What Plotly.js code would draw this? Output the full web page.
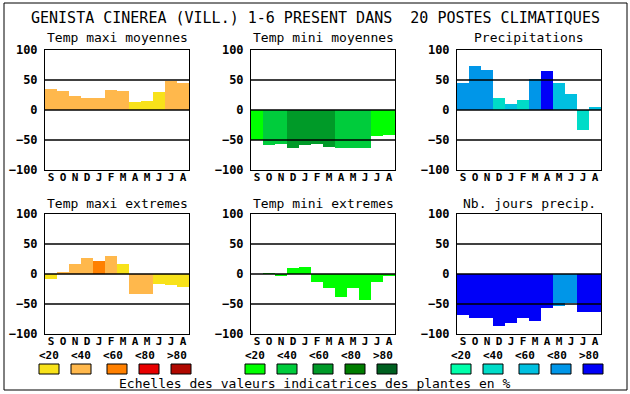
<!DOCTYPE html>
<html>
<head>
<meta charset="utf-8">
<script src="https://cdn.plot.ly/plotly-3.0.1.min.js"></script>
<style>html,body{margin:0;padding:0;background:#fff;}#chart{width:630px;height:394px;}</style>
</head>
<body>
<div id="chart"></div>
<script>
// ---- data ----
const months = ['S','O','N','D','J','F','M','A','M','J','J','A'];
const classLabels = ['<20','<40','<60','<80','>80'];
const redScale = ['#f8e21a','#ffb84c','#ff8000','#e80000','#b00800'];
const greenScale = ['#00ff00','#00cc3c','#009a28','#007d00','#006020'];
const blueScale = ['#00ffaa','#00dcc8','#00c0e0','#0096e8','#0000f8'];
const panelTitles = ['Temp maxi moyennes','Temp mini moyennes','Precipitations',
                     'Temp maxi extremes','Temp mini extremes','Nb. jours precip.'];
const mainTitle = 'GENISTA CINEREA (VILL.) 1-6 PRESENT DANS  20 POSTES CLIMATIQUES';
const footerText = 'Echelles des valeurs indicatrices des plantes en %';
const yTicks = [-100,-50,0,50,100];

const tmaxMoyVals = [35,32,23,20,20,33,32,13,15,30,48,45];
const tmaxMoyCls  = [1,1,1,1,1,1,1,0,0,0,1,1];
const tminMoyVals = [-50,-58,-56,-63,-58,-56,-61,-63,-64,-63,-43,-41];
const tminMoyCls  = [0,1,1,2,2,2,2,1,1,1,0,0];
const precVals    = [45,74,67,20,10,17,52,65,45,27,-33,5];
const precCls     = [3,3,3,1,2,1,3,4,2,2,1,2];
const tmaxExtVals = [-8,4,17,27,22,30,17,-33,-33,-16,-18,-21];
const tmaxExtCls  = [0,1,1,1,2,1,0,1,1,0,0,0];
const tminExtVals = [0,2,-3,10,12,-14,-24,-38,-24,-43,-14,-4];
const tminExtCls  = [0,0,0,0,0,0,0,0,0,0,0,0];
const jourVals    = [-68,-74,-74,-86,-81,-74,-78,-56,-53,-48,-64,-63];
const jourCls     = [4,4,4,4,4,4,4,4,3,3,4,4];

// ---- layout helpers ----
const W = 630, H = 394;
const fx = p => p / W;
const fy = p => 1 - p / H;
const mono = 'DejaVu Sans Mono, Liberation Mono, monospace';
const idx = months.map((m, i) => i);

const panels = [
  {vals: tmaxMoyVals, cls: tmaxMoyCls, scale: redScale},
  {vals: tminMoyVals, cls: tminMoyCls, scale: greenScale},
  {vals: precVals, cls: precCls, scale: blueScale},
  {vals: tmaxExtVals, cls: tmaxExtCls, scale: redScale},
  {vals: tminExtVals, cls: tminExtCls, scale: greenScale},
  {vals: jourVals, cls: jourCls, scale: blueScale}
];
const colX = [[45,189],[251,395],[457,601]];
const rowY = [[50,170],[214,334]];
const titleY = [38, 203];
const legendStart = [39, 245, 451];
const boxOff = [0, 32, 68, 100, 132];
const scales = [redScale, greenScale, blueScale];

const data = [];
const layout = {
  width: W, height: H,
  margin: {l:0, r:0, t:0, b:0},
  paper_bgcolor: '#fff', plot_bgcolor: '#fff',
  showlegend: false, bargap: 0,
  shapes: [], annotations: []
};

panels.forEach((p, k) => {
  const col = k % 3, row = Math.floor(k / 3);
  const n = k + 1;
  const xa = 'x' + (n === 1 ? '' : n), ya = 'y' + (n === 1 ? '' : n);
  data.push({
    type: 'bar', x: idx, y: p.vals, width: 1,
    marker: {color: p.cls.map(c => p.scale[c]), line: {width: 0}},
    xaxis: xa, yaxis: ya, hoverinfo: 'y'
  });
  layout['xaxis' + (n === 1 ? '' : n)] = {
    domain: [fx(colX[col][0]), fx(colX[col][1])], anchor: ya,
    range: [-0.5, 11.5], tickvals: idx, ticktext: months, ticks: '',
    ticklabelstandoff: -3,
    showgrid: false, zeroline: false, showline: true, mirror: true,
    linecolor: '#000', linewidth: 1, fixedrange: true,
    tickfont: {family: mono, size: 11, color: '#000', weight: 'bold'}
  };
  layout['yaxis' + (n === 1 ? '' : n)] = {
    domain: [fy(rowY[row][1]), fy(rowY[row][0])], anchor: xa,
    range: [-100, 100], tickvals: yTicks, ticks: '', ticklabelstandoff: 4,
    showgrid: false, zeroline: false, showline: true, mirror: true,
    linecolor: '#000', linewidth: 1, fixedrange: true,
    tickfont: {family: mono, size: 12, color: '#000', weight: 'bold'}
  };
  [50, 0, -50].forEach(v => layout.shapes.push({
    type: 'line', xref: xa + ' domain', yref: ya, x0: 0, x1: 1, y0: v, y1: v,
    line: {color: '#000', width: 1.3}, layer: 'above'
  }));
  layout.annotations.push({
    text: panelTitles[k], xref: 'paper', yref: 'paper',
    x: fx((colX[col][0] + colX[col][1]) / 2), y: fy(titleY[row]),
    xanchor: 'center', yanchor: 'middle', showarrow: false,
    font: {family: mono, size: 13, color: '#000'}
  });
});

// class labels under bottom panels and legend boxes
legendStart.forEach((s, g) => {
  classLabels.forEach((lab, i) => {
    layout.annotations.push({
      text: lab, xref: 'paper', yref: 'paper',
      x: fx(s + 10 + 32 * i), y: fy(355), xanchor: 'center', yanchor: 'middle',
      showarrow: false, font: {family: mono, size: 11, color: '#000', weight: 'bold'}
    });
    layout.shapes.push({
      type: 'rect', xref: 'paper', yref: 'paper',
      x0: fx(s + boxOff[i]), x1: fx(s + boxOff[i] + 20), y0: fy(374), y1: fy(364),
      fillcolor: scales[g][i], line: {color: '#000', width: 1}
    });
  });
});

layout.annotations.push({
  text: mainTitle.replace(/  /g, '&nbsp; '), xref: 'paper', yref: 'paper',
  x: 0.5, y: fy(18), xanchor: 'center', yanchor: 'middle', showarrow: false,
  font: {family: mono, size: 15, color: '#000'}
});
layout.annotations.push({
  text: footerText, xref: 'paper', yref: 'paper',
  x: 0.5, y: fy(383), xanchor: 'center', yanchor: 'middle', showarrow: false,
  font: {family: mono, size: 13, color: '#000'}
});
// outer frame
layout.shapes.push({
  type: 'rect', xref: 'paper', yref: 'paper',
  x0: fx(4), x1: fx(627), y0: fy(390), y1: fy(3),
  line: {color: '#000', width: 1}, layer: 'below'
});

Plotly.newPlot('chart', data, layout, {displayModeBar: false, staticPlot: true});
</script>
</body>
</html>
